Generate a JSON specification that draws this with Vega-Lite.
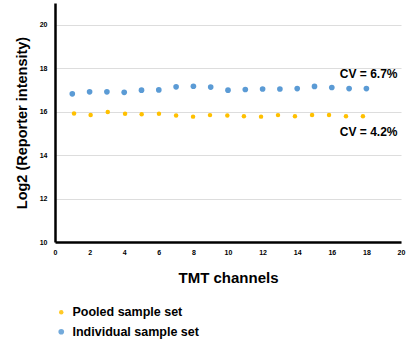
{
  "$schema": "https://vega.github.io/schema/vega-lite/v6.json",
  "autosize": "none",
  "width": 346,
  "height": 239,
  "padding": {"left": 55, "top": 3, "right": 8, "bottom": 105},
  "background": "white",
  "config": {
    "font": "Liberation Sans",
    "view": {"stroke": null},
    "axis": {"labelOverlap": false}
  },
  "datasets": {
    "points": [
      {"series": "Individual sample set", "channel": 1, "value": 16.82},
      {"series": "Individual sample set", "channel": 2, "value": 16.91},
      {"series": "Individual sample set", "channel": 3, "value": 16.91},
      {"series": "Individual sample set", "channel": 4, "value": 16.89},
      {"series": "Individual sample set", "channel": 5, "value": 16.99},
      {"series": "Individual sample set", "channel": 6, "value": 17.0},
      {"series": "Individual sample set", "channel": 7, "value": 17.14},
      {"series": "Individual sample set", "channel": 8, "value": 17.17},
      {"series": "Individual sample set", "channel": 9, "value": 17.13},
      {"series": "Individual sample set", "channel": 10, "value": 16.99},
      {"series": "Individual sample set", "channel": 11, "value": 17.02},
      {"series": "Individual sample set", "channel": 12, "value": 17.04},
      {"series": "Individual sample set", "channel": 13, "value": 17.04},
      {"series": "Individual sample set", "channel": 14, "value": 17.06},
      {"series": "Individual sample set", "channel": 15, "value": 17.16},
      {"series": "Individual sample set", "channel": 16, "value": 17.11},
      {"series": "Individual sample set", "channel": 17, "value": 17.06},
      {"series": "Individual sample set", "channel": 18, "value": 17.06},
      {"series": "Pooled sample set", "channel": 1.1, "value": 15.91},
      {"series": "Pooled sample set", "channel": 2.06, "value": 15.85},
      {"series": "Pooled sample set", "channel": 3.05, "value": 15.98},
      {"series": "Pooled sample set", "channel": 4.05, "value": 15.9},
      {"series": "Pooled sample set", "channel": 5.01, "value": 15.88},
      {"series": "Pooled sample set", "channel": 6.01, "value": 15.9},
      {"series": "Pooled sample set", "channel": 7.0, "value": 15.82},
      {"series": "Pooled sample set", "channel": 7.98, "value": 15.77},
      {"series": "Pooled sample set", "channel": 8.96, "value": 15.84},
      {"series": "Pooled sample set", "channel": 9.96, "value": 15.82},
      {"series": "Pooled sample set", "channel": 10.92, "value": 15.79},
      {"series": "Pooled sample set", "channel": 11.91, "value": 15.77},
      {"series": "Pooled sample set", "channel": 12.89, "value": 15.84},
      {"series": "Pooled sample set", "channel": 13.87, "value": 15.79},
      {"series": "Pooled sample set", "channel": 14.86, "value": 15.85},
      {"series": "Pooled sample set", "channel": 15.84, "value": 15.85},
      {"series": "Pooled sample set", "channel": 16.82, "value": 15.79},
      {"series": "Pooled sample set", "channel": 17.8, "value": 15.79}
    ],
    "labels": [
      {"label": "CV = 6.7%", "channel": 19.8, "value": 17.74},
      {"label": "CV = 4.2%", "channel": 19.8, "value": 15.07}
    ]
  },
  "encoding": {
    "x": {
      "field": "channel", "type": "quantitative",
      "scale": {"domain": [0, 20], "nice": false},
      "axis": {
        "values": [0, 2, 4, 6, 8, 10, 12, 14, 16, 18, 20],
        "labelOverlap": false, "labelBound": false, "labelFlush": false,
        "grid": false, "ticks": false,
        "domainColor": "black", "domainWidth": 2.5,
        "labelFontSize": 7, "labelFontWeight": "bold", "labelColor": "black",
        "labelPadding": 6,
        "title": "TMT channels", "titleFontSize": 15, "titleFontWeight": "bold",
        "titleColor": "black", "titlePadding": 15
      }
    },
    "y": {
      "field": "value", "type": "quantitative",
      "scale": {"domain": [10, 21], "nice": false, "zero": false},
      "axis": {
        "values": [10, 12, 14, 16, 18, 20],
        "labelOverlap": false,
        "grid": true, "gridColor": "#dddddd", "gridWidth": 1,
        "ticks": false,
        "domainColor": "black", "domainWidth": 2.5,
        "labelFontSize": 7, "labelFontWeight": "bold", "labelColor": "black",
        "labelPadding": 8,
        "title": "Log2 (Reporter intensity)", "titleFontSize": 14.5,
        "titleFontWeight": "bold", "titleColor": "black", "titlePadding": 10
      }
    }
  },
  "layer": [
    {
      "data": {"name": "points"},
      "mark": {"type": "point", "filled": true, "opacity": 1},
      "encoding": {
        "color": {
          "field": "series", "type": "nominal",
          "scale": {
            "domain": ["Pooled sample set", "Individual sample set"],
            "range": ["#FFC000", "#5B9BD5"]
          },
          "legend": {
            "orient": "none", "legendX": 0, "legendY": 303,
            "title": null, "symbolType": "circle", "symbolSize": 45,
            "symbolOpacity": 0.85,
            "labelFontSize": 12.5, "labelFontWeight": "bold", "labelColor": "black",
            "rowPadding": 6.5, "labelOffset": 5
          }
        },
        "size": {
          "field": "series", "type": "nominal",
          "scale": {
            "domain": ["Pooled sample set", "Individual sample set"],
            "range": [20, 32]
          },
          "legend": null
        }
      }
    },
    {
      "data": {"name": "labels"},
      "mark": {"type": "text", "align": "right", "baseline": "middle",
               "fontSize": 12, "fontWeight": "bold", "color": "black"},
      "encoding": {
        "text": {"field": "label"}
      }
    }
  ]
}
